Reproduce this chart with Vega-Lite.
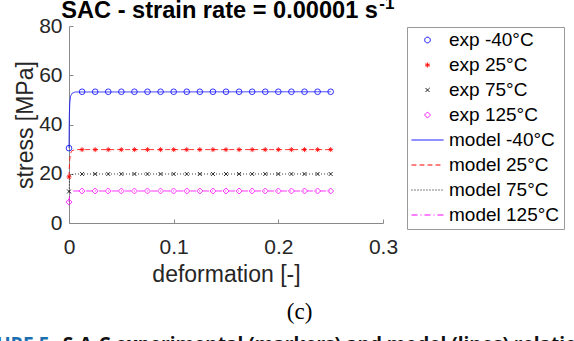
{
  "$schema": "https://vega.github.io/schema/vega-lite/v6.json",
  "width": 314,
  "height": 197,
  "autosize": {"type": "none"},
  "padding": {"left": 69, "top": 26, "right": 191, "bottom": 118},
  "background": "white",
  "config": {
    "view": {"stroke": null},
    "axis": {"grid": false, "domainColor": "#8a8a8a", "tickColor": "#8a8a8a", "tickSize": -4, "domainWidth": 1, "tickWidth": 1, "labelFont": "Liberation Sans", "labelFontSize": 21, "labelColor": "#262626", "titleFont": "Liberation Sans", "titleFontSize": 23, "titleFontWeight": "normal", "titleColor": "#262626", "labelOverlap": false, "labelFlush": false}
  },
  "datasets": {
    "exp": [
      {"series": "exp -40°C", "x": 0, "y": 30.4},
      {"series": "exp -40°C", "x": 0.0125, "y": 53.3},
      {"series": "exp -40°C", "x": 0.025, "y": 53.3},
      {"series": "exp -40°C", "x": 0.0375, "y": 53.3},
      {"series": "exp -40°C", "x": 0.05, "y": 53.3},
      {"series": "exp -40°C", "x": 0.0625, "y": 53.3},
      {"series": "exp -40°C", "x": 0.075, "y": 53.3},
      {"series": "exp -40°C", "x": 0.0875, "y": 53.3},
      {"series": "exp -40°C", "x": 0.1, "y": 53.3},
      {"series": "exp -40°C", "x": 0.1125, "y": 53.3},
      {"series": "exp -40°C", "x": 0.125, "y": 53.3},
      {"series": "exp -40°C", "x": 0.1375, "y": 53.3},
      {"series": "exp -40°C", "x": 0.15, "y": 53.3},
      {"series": "exp -40°C", "x": 0.1625, "y": 53.3},
      {"series": "exp -40°C", "x": 0.175, "y": 53.3},
      {"series": "exp -40°C", "x": 0.1875, "y": 53.3},
      {"series": "exp -40°C", "x": 0.2, "y": 53.3},
      {"series": "exp -40°C", "x": 0.2125, "y": 53.3},
      {"series": "exp -40°C", "x": 0.225, "y": 53.3},
      {"series": "exp -40°C", "x": 0.2375, "y": 53.3},
      {"series": "exp -40°C", "x": 0.25, "y": 53.3},
      {"series": "exp 25°C", "x": 0, "y": 18.7},
      {"series": "exp 25°C", "x": 0.0125, "y": 29.8},
      {"series": "exp 25°C", "x": 0.025, "y": 29.8},
      {"series": "exp 25°C", "x": 0.0375, "y": 29.8},
      {"series": "exp 25°C", "x": 0.05, "y": 29.8},
      {"series": "exp 25°C", "x": 0.0625, "y": 29.8},
      {"series": "exp 25°C", "x": 0.075, "y": 29.8},
      {"series": "exp 25°C", "x": 0.0875, "y": 29.8},
      {"series": "exp 25°C", "x": 0.1, "y": 29.8},
      {"series": "exp 25°C", "x": 0.1125, "y": 29.8},
      {"series": "exp 25°C", "x": 0.125, "y": 29.8},
      {"series": "exp 25°C", "x": 0.1375, "y": 29.8},
      {"series": "exp 25°C", "x": 0.15, "y": 29.8},
      {"series": "exp 25°C", "x": 0.1625, "y": 29.8},
      {"series": "exp 25°C", "x": 0.175, "y": 29.8},
      {"series": "exp 25°C", "x": 0.1875, "y": 29.8},
      {"series": "exp 25°C", "x": 0.2, "y": 29.8},
      {"series": "exp 25°C", "x": 0.2125, "y": 29.8},
      {"series": "exp 25°C", "x": 0.225, "y": 29.8},
      {"series": "exp 25°C", "x": 0.2375, "y": 29.8},
      {"series": "exp 25°C", "x": 0.25, "y": 29.8},
      {"series": "exp 75°C", "x": 0, "y": 12.8},
      {"series": "exp 75°C", "x": 0.0125, "y": 19.9},
      {"series": "exp 75°C", "x": 0.025, "y": 19.9},
      {"series": "exp 75°C", "x": 0.0375, "y": 19.9},
      {"series": "exp 75°C", "x": 0.05, "y": 19.9},
      {"series": "exp 75°C", "x": 0.0625, "y": 19.9},
      {"series": "exp 75°C", "x": 0.075, "y": 19.9},
      {"series": "exp 75°C", "x": 0.0875, "y": 19.9},
      {"series": "exp 75°C", "x": 0.1, "y": 19.9},
      {"series": "exp 75°C", "x": 0.1125, "y": 19.9},
      {"series": "exp 75°C", "x": 0.125, "y": 19.9},
      {"series": "exp 75°C", "x": 0.1375, "y": 19.9},
      {"series": "exp 75°C", "x": 0.15, "y": 19.9},
      {"series": "exp 75°C", "x": 0.1625, "y": 19.9},
      {"series": "exp 75°C", "x": 0.175, "y": 19.9},
      {"series": "exp 75°C", "x": 0.1875, "y": 19.9},
      {"series": "exp 75°C", "x": 0.2, "y": 19.9},
      {"series": "exp 75°C", "x": 0.2125, "y": 19.9},
      {"series": "exp 75°C", "x": 0.225, "y": 19.9},
      {"series": "exp 75°C", "x": 0.2375, "y": 19.9},
      {"series": "exp 75°C", "x": 0.25, "y": 19.9},
      {"series": "exp 125°C", "x": 0, "y": 8.5},
      {"series": "exp 125°C", "x": 0.0125, "y": 13.0},
      {"series": "exp 125°C", "x": 0.025, "y": 13.0},
      {"series": "exp 125°C", "x": 0.0375, "y": 13.0},
      {"series": "exp 125°C", "x": 0.05, "y": 13.0},
      {"series": "exp 125°C", "x": 0.0625, "y": 13.0},
      {"series": "exp 125°C", "x": 0.075, "y": 13.0},
      {"series": "exp 125°C", "x": 0.0875, "y": 13.0},
      {"series": "exp 125°C", "x": 0.1, "y": 13.0},
      {"series": "exp 125°C", "x": 0.1125, "y": 13.0},
      {"series": "exp 125°C", "x": 0.125, "y": 13.0},
      {"series": "exp 125°C", "x": 0.1375, "y": 13.0},
      {"series": "exp 125°C", "x": 0.15, "y": 13.0},
      {"series": "exp 125°C", "x": 0.1625, "y": 13.0},
      {"series": "exp 125°C", "x": 0.175, "y": 13.0},
      {"series": "exp 125°C", "x": 0.1875, "y": 13.0},
      {"series": "exp 125°C", "x": 0.2, "y": 13.0},
      {"series": "exp 125°C", "x": 0.2125, "y": 13.0},
      {"series": "exp 125°C", "x": 0.225, "y": 13.0},
      {"series": "exp 125°C", "x": 0.2375, "y": 13.0},
      {"series": "exp 125°C", "x": 0.25, "y": 13.0}
    ],
    "model": [
      {"series": "model -40°C", "x": 0, "y": 30.4},
      {"series": "model -40°C", "x": 0.0003, "y": 44},
      {"series": "model -40°C", "x": 0.0008, "y": 49},
      {"series": "model -40°C", "x": 0.0015, "y": 51.5},
      {"series": "model -40°C", "x": 0.003, "y": 52.7},
      {"series": "model -40°C", "x": 0.006, "y": 53.2},
      {"series": "model -40°C", "x": 0.25, "y": 53.3},
      {"series": "model 25°C", "x": 0, "y": 18.7},
      {"series": "model 25°C", "x": 0.0005, "y": 25},
      {"series": "model 25°C", "x": 0.0015, "y": 28.3},
      {"series": "model 25°C", "x": 0.003, "y": 29.4},
      {"series": "model 25°C", "x": 0.006, "y": 29.8},
      {"series": "model 25°C", "x": 0.25, "y": 29.8},
      {"series": "model 75°C", "x": 0, "y": 12.8},
      {"series": "model 75°C", "x": 0.0005, "y": 17.5},
      {"series": "model 75°C", "x": 0.0015, "y": 19.3},
      {"series": "model 75°C", "x": 0.004, "y": 19.9},
      {"series": "model 75°C", "x": 0.25, "y": 19.9},
      {"series": "model 125°C", "x": 0, "y": 8.5},
      {"series": "model 125°C", "x": 0.0005, "y": 11.3},
      {"series": "model 125°C", "x": 0.0015, "y": 12.6},
      {"series": "model 125°C", "x": 0.004, "y": 13.0},
      {"series": "model 125°C", "x": 0.25, "y": 13.0}
    ],
    "title": [{"note": "SAC - strain rate = 0.00001 s"}],
    "titlesup": [{"note": "-1"}],
    "notes": [{"note": "(c)"}],
    "fig": [{"note": "FIGURE 5"}],
    "caption": [{"note": "S-A-C experimental (markers) and model (lines) relationship"}]
  },
  "layer": [
    {
      "data": {"name": "model"},
      "mark": {"type": "line", "strokeWidth": 0.8, "interpolate": "linear"},
      "encoding": {
        "x": {"field": "x", "type": "quantitative", "scale": {"domain": [0, 0.3], "nice": false, "zero": false}, "axis": {"values": [0, 0.1, 0.2, 0.3], "format": "~g", "labelPadding": 17, "titlePadding": 6, "title": "deformation [-]"}},
        "y": {"field": "y", "type": "quantitative", "scale": {"domain": [0, 80], "nice": false}, "axis": {"values": [0, 20, 40, 60, 80], "labelPadding": 11, "titlePadding": 1, "title": "stress [MPa]"}},
        "color": {"field": "series", "type": "nominal", "scale": {"domain": ["exp -40°C", "exp 25°C", "exp 75°C", "exp 125°C", "model -40°C", "model 25°C", "model 75°C", "model 125°C"], "range": ["#0000ff", "#ff0000", "#000000", "#ff00ff", "#0000ff", "#ff0000", "#000000", "#ff00ff"]}, "legend": {"title": null, "orient": "none", "legendX": 338, "legendY": 1, "strokeColor": "#999999", "fillColor": "white", "padding": 4, "rowPadding": 6, "clipHeight": 18, "labelFontSize": 19, "labelFont": "Liberation Sans", "labelColor": "#000000", "labelOffset": 12, "symbolStrokeWidth": 1, "symbolOffset": 7, "cornerRadius": 0, "labelLimit": 200}},
        "strokeDash": {"field": "series", "type": "nominal", "scale": {"domain": ["exp -40°C", "exp 25°C", "exp 75°C", "exp 125°C", "model -40°C", "model 25°C", "model 75°C", "model 125°C"], "range": [[1, 0], [1, 0], [1, 0], [1, 0], [1, 0], [5, 3], [1, 2], [6, 3, 1, 3]]}, "legend": {"title": null, "orient": "none", "legendX": 338, "legendY": 1}}
      }
    },
    {
      "data": {"name": "exp"},
      "mark": {"type": "point", "filled": false, "strokeWidth": 0.8, "opacity": 1},
      "encoding": {
        "x": {"field": "x", "type": "quantitative"},
        "y": {"field": "y", "type": "quantitative"},
        "color": {"field": "series", "type": "nominal", "scale": {"domain": ["exp -40°C", "exp 25°C", "exp 75°C", "exp 125°C", "model -40°C", "model 25°C", "model 75°C", "model 125°C"], "range": ["#0000ff", "#ff0000", "#000000", "#ff00ff", "#0000ff", "#ff0000", "#000000", "#ff00ff"]}, "legend": {"title": null, "orient": "none", "legendX": 338, "legendY": 1}},
        "shape": {"field": "series", "type": "nominal", "scale": {"domain": ["exp -40°C", "exp 25°C", "exp 75°C", "exp 125°C", "model -40°C", "model 25°C", "model 75°C", "model 125°C"], "range": ["circle", "M-1,0L1,0M0,-1L0,1M-0.7,-0.7L0.7,0.7M-0.7,0.7L0.7,-0.7", "M-1,-1L1,1M-1,1L1,-1", "diamond", "M-5,0L5,0", "M-5,0L5,0", "M-5,0L5,0", "M-5,0L5,0"]}, "legend": {"title": null, "orient": "none", "legendX": 338, "legendY": 1}},
        "size": {"field": "series", "type": "nominal", "scale": {"type": "ordinal", "domain": ["exp -40°C", "exp 25°C", "exp 75°C", "exp 125°C", "model -40°C", "model 25°C", "model 75°C", "model 125°C"], "range": [32, 25, 16, 36, 41, 41, 41, 41]}, "legend": {"title": null, "orient": "none", "legendX": 338, "legendY": 1}}
      }
    },
    {
      "data": {"name": "title"},
      "mark": {"type": "text", "font": "Liberation Sans", "fontWeight": "bold", "fontSize": 23.6, "fill": "#000000", "align": "right", "baseline": "alphabetic"},
      "encoding": {"x": {"datum": 0.2952, "type": "quantitative"}, "y": {"datum": 83.45, "type": "quantitative"}, "text": {"field": "note", "type": "nominal"}}
    },
    {
      "data": {"name": "titlesup"},
      "mark": {"type": "text", "font": "Liberation Sans", "fontWeight": "bold", "fontSize": 17, "fill": "#000000", "align": "left", "baseline": "alphabetic"},
      "encoding": {"x": {"datum": 0.2965, "type": "quantitative"}, "y": {"datum": 86.9, "type": "quantitative"}, "text": {"field": "note", "type": "nominal"}}
    },
    {
      "data": {"name": "notes"},
      "mark": {"type": "text", "font": "Liberation Serif", "fontSize": 23, "fill": "#000000", "align": "center", "baseline": "middle"},
      "encoding": {"x": {"datum": 0.2203, "type": "quantitative"}, "y": {"datum": -36.1, "type": "quantitative"}, "text": {"field": "note", "type": "nominal"}}
    },
    {
      "data": {"name": "fig"},
      "mark": {"type": "text", "font": "Open Sans", "fontWeight": "bold", "fontSize": 19, "fill": "#1a6fb0", "align": "right", "baseline": "top"},
      "encoding": {"x": {"datum": -0.0186, "type": "quantitative"}, "y": {"datum": -45.9, "type": "quantitative"}, "text": {"field": "note", "type": "nominal"}}
    },
    {
      "data": {"name": "caption"},
      "mark": {"type": "text", "font": "Open Sans", "fontWeight": "bold", "fontSize": 19, "fill": "#111111", "align": "left", "baseline": "top"},
      "encoding": {"x": {"datum": -0.006, "type": "quantitative"}, "y": {"datum": -45.9, "type": "quantitative"}, "text": {"field": "note", "type": "nominal"}}
    }
  ]
}
